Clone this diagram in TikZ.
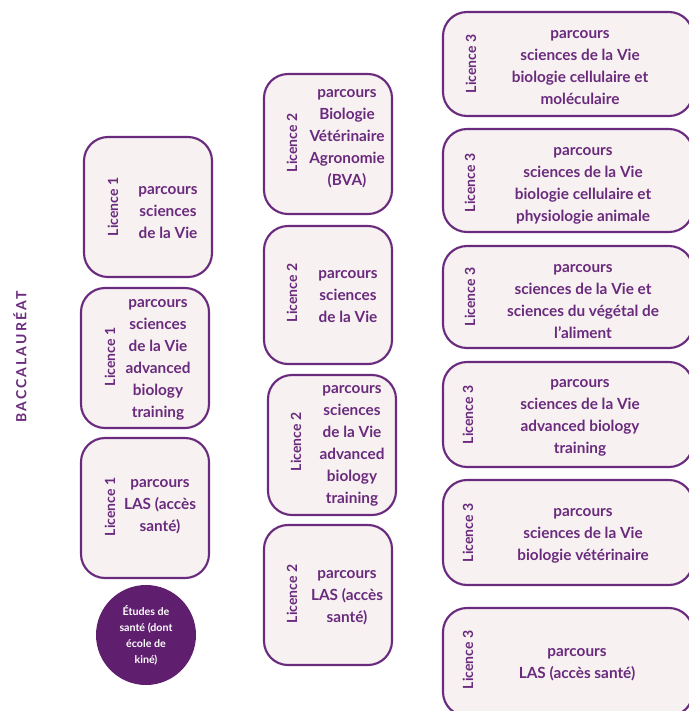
\documentclass[tikz,border=0pt]{standalone}
\usepackage{fontspec}
\setmainfont{Lato}
\usepackage{tikz}
\definecolor{violet}{HTML}{6A2A7D}
\definecolor{violetfonce}{HTML}{5F1F6E}
\definecolor{fond}{HTML}{F7F2F1}
\tikzset{
  box/.style={draw=violet, fill=fond, line width=1.6pt, rounded corners=18pt},
  level/.style={rotate=90, text=violet, font=\bfseries\fontsize{10.5}{12}\selectfont},
  txt/.style={align=center, text=violet, yshift=-2.5pt, font=\bfseries\fontsize{11.5}{16.5}\selectfont},
  bactitle/.style={rotate=90, text=violet, font=\bfseries\addfontfeature{LetterSpace=15}\fontsize{10.5}{12}\selectfont},
}
\newcommand{\parcoursbox}[4] {\node at (#1) (#2) [box, minimum width=#3*0.75pt, minimum height=#4*0.75pt] {};}
\newcommand{\licencelabel}[3] {\node at (#1) (#2) [level] {#3};}
\newcommand{\parcourstext}[3] {\node at (#1) (#2) [txt] {#3};}

\begin{document}
\begin{tikzpicture}[x=0.75pt, y=-0.75pt]
\clip (0,0) rectangle (689,711);

\node at (20,357) (bac) [bactitle] {BACCALAURÉAT};

% licence 1
\parcoursbox {148,207} {b11} {128} {140}
\licencelabel {113,207} {l11} {Licence 1}
\parcourstext {168,209} {t11} {parcours\\sciences\\de la Vie}

\parcoursbox {145,358} {b12} {128} {140}
\licencelabel {110,357} {l12} {Licence 1}
\parcourstext {158,357} {t12} {parcours\\sciences\\de la Vie\\advanced\\biology\\training}

\parcoursbox {145,508} {b13} {128} {140}
\licencelabel {110,507} {l13} {Licence 1}
\parcourstext {160,503} {t13} {parcours\\LAS (accès\\santé)}

\node at (146,635) (sante) [circle, fill=violetfonce, minimum size=100*0.75pt, inner sep=0pt, align=center, text=white, font=\bfseries\fontsize{8}{12}\selectfont] {Études de\\santé (dont\\école de\\kiné)};

% licence 2
\parcoursbox {328,144} {b21} {128} {140}
\licencelabel {292,143} {l21} {Licence 2}
\parcourstext {347,135} {t21} {parcours\\Biologie\\Vétérinaire\\Agronomie\\(BVA)}

\parcoursbox {328,295} {b22} {128} {138}
\licencelabel {292,293} {l22} {Licence 2}
\parcourstext {348,293} {t22} {parcours\\sciences\\de la Vie}

\parcoursbox {332,445} {b23} {128} {140}
\licencelabel {296,442} {l23} {Licence 2}
\parcourstext {352,443} {t23} {parcours\\sciences\\de la Vie\\advanced\\biology\\training}

\parcoursbox {328,595} {b24} {128} {140}
\licencelabel {292,594} {l24} {Licence 2}
\parcourstext {347,594} {t24} {parcours\\LAS (accès\\santé)}

% licence 3
\parcoursbox {568,64} {b31} {250} {104}
\licencelabel {471,64} {l31} {Licence 3}
\parcourstext {580,64} {t31} {parcours\\sciences de la Vie\\biologie cellulaire et\\moléculaire}

\parcoursbox {568,180.5} {b32} {250} {103}
\licencelabel {470,183} {l32} {Licence 3}
\parcourstext {583,183} {t32} {parcours\\sciences de la Vie\\biologie cellulaire et\\physiologie animale}

\parcoursbox {568,297} {b33} {250} {102}
\licencelabel {470,297} {l33} {Licence 3}
\parcourstext {583,298} {t33} {parcours\\sciences de la Vie et\\sciences du végétal de\\l'aliment}

\parcoursbox {568,414.5} {b34} {250} {105}
\licencelabel {468,415} {l34} {Licence 3}
\parcourstext {580,415} {t34} {parcours\\sciences de la Vie\\advanced biology\\training}

\parcoursbox {568,532.5} {b35} {250} {105}
\licencelabel {468,533} {l35} {Licence 3}
\parcourstext {583,533} {t35} {parcours\\sciences de la Vie\\biologie vétérinaire}

\parcoursbox {568,662} {b36} {250} {108}
\licencelabel {468,660} {l36} {Licence 3}
\parcourstext {577,661} {t36} {parcours\\LAS (accès santé)}
\end{tikzpicture}
\end{document}
